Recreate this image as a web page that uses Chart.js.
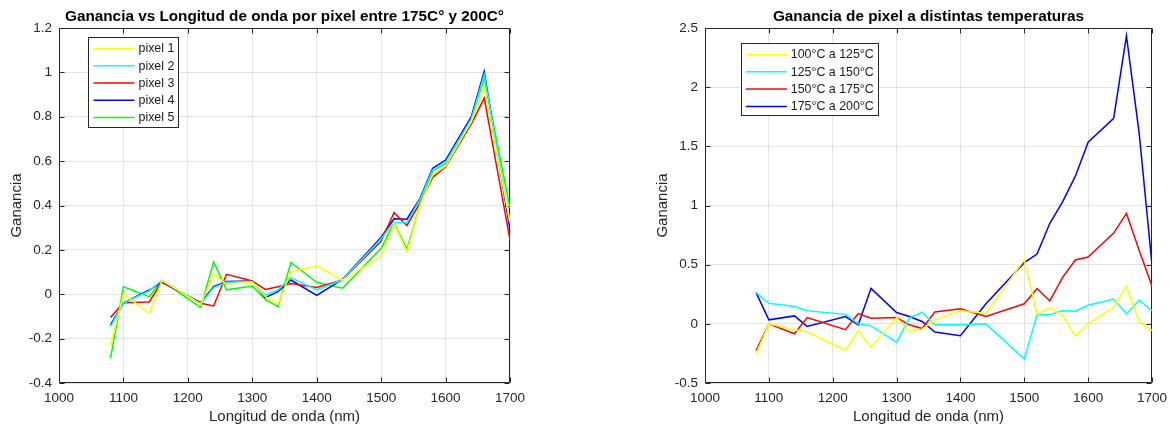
<!DOCTYPE html>
<html><head><meta charset="utf-8">
<script src="https://cdn.jsdelivr.net/npm/chart.js@4.4.1/dist/chart.umd.min.js"></script>
<style>
html,body{margin:0;padding:0;background:#fff;}
body{width:1174px;height:430px;position:relative;overflow:hidden;}
#w1{position:absolute;left:0;top:0;width:560px;height:430px;}
#w2{position:absolute;left:590px;top:0;width:584px;height:430px;}
</style></head><body>
<div id="w1"><canvas id="c1"></canvas></div>
<div id="w2"><canvas id="c2"></canvas></div>
<script>
// ---------- data ----------
const leftWavelengths = [1080,1100,1140,1160,1220,1240,1260,1300,1320,1340,1360,1400,1440,1500,1520,1540,1560,1580,1600,1640,1660,1700];
const pixel1 = [-0.229,0.001,-0.086,0.061,-0.045,0.090,0.046,0.054,-0.010,-0.044,0.100,0.128,0.064,0.170,0.317,0.190,0.400,0.538,0.578,0.778,0.936,0.325];
const pixel2 = [-0.146,-0.040,0.015,0.064,-0.044,0.030,0.054,0.057,-0.003,0.020,0.075,0.020,0.064,0.250,0.323,0.323,0.425,0.560,0.594,0.790,0.990,0.320];
const pixel3 = [-0.105,-0.038,-0.035,0.057,-0.041,-0.053,0.090,0.060,0.022,0.034,0.048,0.031,0.064,0.240,0.368,0.310,0.410,0.527,0.575,0.768,0.884,0.245];
const pixel4 = [-0.138,-0.040,0.019,0.054,-0.038,0.034,0.057,0.060,-0.015,0.012,0.064,-0.005,0.067,0.257,0.340,0.338,0.430,0.568,0.605,0.800,1.004,0.290];
const pixel5 = [-0.289,0.034,-0.011,0.060,-0.060,0.146,0.020,0.037,-0.023,-0.056,0.143,0.054,0.027,0.207,0.320,0.203,0.400,0.557,0.590,0.793,0.974,0.390];
const leftLabels = ['pixel 1','pixel 2','pixel 3','pixel 4','pixel 5'];

const rightWavelengths = [1080,1100,1140,1160,1220,1240,1260,1300,1320,1340,1360,1400,1440,1500,1520,1540,1560,1580,1600,1640,1660,1680,1700];
const temp100to125 = [-0.253,0.000,-0.050,-0.067,-0.225,-0.056,-0.197,0.053,-0.059,-0.045,0.034,0.110,0.090,0.540,0.080,0.138,0.070,-0.104,0.000,0.140,0.320,0.020,-0.056];
const temp125to150 = [0.264,0.174,0.146,0.110,0.080,0.000,-0.017,-0.155,0.048,0.098,-0.008,-0.008,0.000,-0.298,0.076,0.076,0.110,0.107,0.157,0.210,0.084,0.200,0.112];
const temp150to175 = [-0.225,0.000,-0.084,0.053,-0.050,0.087,0.048,0.053,-0.008,-0.040,0.100,0.127,0.062,0.169,0.298,0.194,0.393,0.540,0.565,0.767,0.933,0.620,0.320];
const temp175to200 = [0.264,0.034,0.067,-0.022,0.062,-0.008,0.300,0.096,0.062,0.020,-0.070,-0.100,0.170,0.517,0.590,0.850,1.030,1.248,1.535,1.737,2.434,1.608,0.500];
const rightLabels = ['100°C a 125°C','125°C a 150°C','150°C a 175°C','175°C a 200°C'];

const xTickLabels = ['1000','1100','1200','1300','1400','1500','1600','1700'];
const leftYTickLabels = ['-0.4','-0.2','0','0.2','0.4','0.6','0.8','1','1.2'];
const rightYTickLabels = ['-0.5','0','0.5','1','1.5','2','2.5'];

const leftTitle = 'Ganancia vs Longitud de onda por pixel entre 175C° y 200C°';
const rightTitle = 'Ganancia de pixel a distintas temperaturas';
const xTitle = 'Longitud de onda (nm)';
const yTitle = 'Ganancia';

// ---------- styling ----------
const FONT = '"Liberation Sans", Arial, Helvetica, sans-serif';
Chart.defaults.font.family = FONT;
const AXIS = '#262626';
const GRID = '#e3e3e3';
const COLORS = ['#ffff00','#00ffff','#ff0000','#0000ff','#00ff00'];

const framePlugin = {
  id: 'matlabFrame',
  beforeDatasetsDraw(chart) {
    const {ctx, chartArea: a, scales: {x, y}} = chart;
    const L = Math.round(a.left)+0.5, R = Math.round(a.right)-0.5, T = Math.round(a.top)+0.5, B = Math.round(a.bottom)-0.5;
    ctx.save();
    ctx.strokeStyle = AXIS; ctx.lineWidth = 1;
    ctx.beginPath();
    ctx.rect(L, T, R-L, B-T);
    x.ticks.forEach(t => { const p = Math.round(x.getPixelForValue(t.value))+0.5;
      ctx.moveTo(p, B); ctx.lineTo(p, B-5); ctx.moveTo(p, T); ctx.lineTo(p, T+5); });
    y.ticks.forEach(t => { const p = Math.round(y.getPixelForValue(t.value))+0.5;
      ctx.moveTo(L, p); ctx.lineTo(L+5, p); ctx.moveTo(R, p); ctx.lineTo(R-5, p); });
    ctx.stroke();
    ctx.restore();
  }
};

const titlePlugin = {
  id: 'areaTitle',
  afterDraw(chart, args, opts) {
    const {ctx, chartArea: a} = chart;
    ctx.save();
    ctx.font = 'bold 15.3px ' + FONT;
    ctx.fillStyle = '#000';
    ctx.textAlign = 'center';
    ctx.textBaseline = 'alphabetic';
    ctx.fillText(opts.text, (a.left + a.right)/2, opts.baseline);
    ctx.restore();
  }
};

const legendPlugin = {
  id: 'boxLegend',
  afterDatasetsDraw(chart, args, o) {
    const {ctx, chartArea: a} = chart;
    const bx = Math.round(a.left + o.dx) + 0.5, by = Math.round(a.top + o.dy) + 0.5;
    ctx.save();
    ctx.fillStyle = '#fff';
    ctx.fillRect(bx, by, o.w, o.h);
    ctx.strokeStyle = AXIS; ctx.lineWidth = 1;
    ctx.strokeRect(bx, by, o.w, o.h);
    ctx.font = '12.4px ' + FONT;
    ctx.textBaseline = 'middle';
    ctx.textAlign = 'left';
    chart.data.datasets.forEach((ds, i) => {
      const yy = by + o.first + i*o.step;
      ctx.strokeStyle = ds.borderColor; ctx.lineWidth = 1.5;
      ctx.beginPath(); ctx.moveTo(bx + o.l0, yy); ctx.lineTo(bx + o.l1, yy); ctx.stroke();
      ctx.fillStyle = '#1a1a1a';
      ctx.fillText(ds.label, bx + o.tx, yy + 0.5);
    });
    ctx.restore();
  }
};

function makeChart(id, wl, series, labels, yMin, yMax, yStep, yLabels, yWidth, yTitlePad, padRight, title, legendOpts) {
  const datasets = series.map((s, i) => ({
    label: labels[i],
    data: s.map((v, k) => ({x: wl[k], y: v})),
    borderColor: COLORS[i],
    backgroundColor: COLORS[i],
    borderWidth: 1.5,
    pointRadius: 0,
    tension: 0,
    fill: false
  }));
  return new Chart(document.getElementById(id), {
    type: 'line',
    data: {datasets},
    options: {
      responsive: true, maintainAspectRatio: false, animation: false,
      layout: {padding: {top: 28, right: padRight, left: 0, bottom: 0}},
      plugins: {
        legend: {display: false}, tooltip: {enabled: false}, title: {display: false},
        areaTitle: {text: title, baseline: 21},
        boxLegend: legendOpts
      },
      scales: {
        x: {
          type: 'linear', min: 1000, max: 1700,
          ticks: {stepSize: 100, color: AXIS, font: {size: 13.5}, padding: 7, maxRotation: 0,
                  callback: (v, i) => xTickLabels[i]},
          grid: {color: GRID, drawTicks: false},
          border: {display: false},
          title: {display: true, text: xTitle, color: AXIS, font: {size: 15}, padding: {top: 0, bottom: 4}},
          afterFit: s => { s.height = 47; }
        },
        y: {
          type: 'linear', min: yMin, max: yMax,
          ticks: {stepSize: yStep, color: AXIS, font: {size: 13.5}, padding: 7,
                  callback: (v, i) => yLabels[i]},
          grid: {color: GRID, drawTicks: false},
          border: {display: false},
          title: {display: true, text: yTitle, color: AXIS, font: {size: 15}, padding: {top: yTitlePad, bottom: 0}},
          afterFit: s => { s.width = yWidth; }
        }
      }
    },
    plugins: [framePlugin, titlePlugin, legendPlugin]
  });
}

makeChart('c1', leftWavelengths, [pixel1, pixel2, pixel3, pixel4, pixel5], leftLabels,
  -0.4, 1.2, 0.2, leftYTickLabels, 59, 8, 50, leftTitle,
  {dx: 29.3, dy: 8.7, w: 90, h: 90, first: 11, step: 17.25, l0: 5, l1: 46, tx: 50});
makeChart('c2', rightWavelengths, [temp100to125, temp125to150, temp150to175, temp175to200], rightLabels,
  -0.5, 2.5, 0.5, rightYTickLabels, 115, 64, 18, rightTitle,
  {dx: 35.7, dy: 14.7, w: 137, h: 72, first: 11, step: 17.3, l0: 4.3, l1: 45.3, tx: 49.3});
</script>
</body></html>
